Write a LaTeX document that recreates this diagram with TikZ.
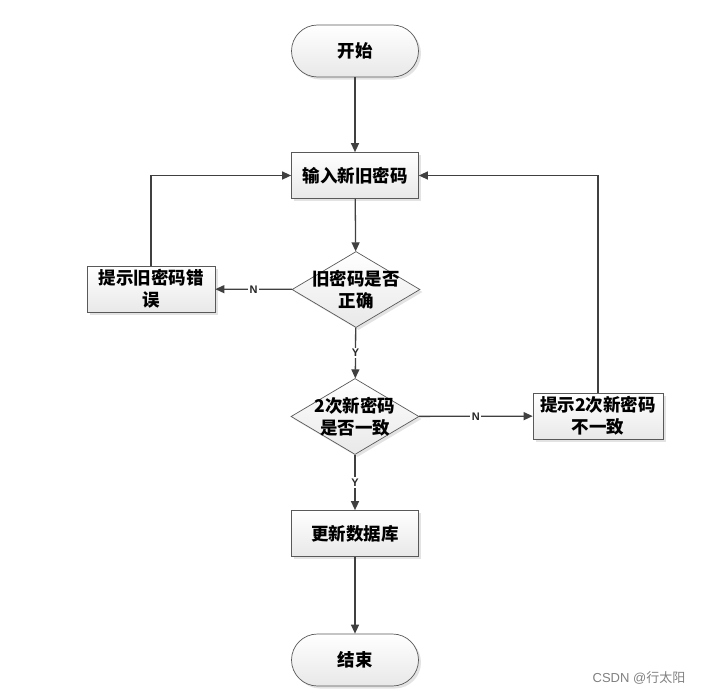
\documentclass[tikz,border=0pt]{standalone}
\usepackage{fontspec}
\setsansfont{Liberation Sans}
\newfontfamily\cjk{Noto Sans CJK SC}
\usetikzlibrary{shapes.geometric,arrows.meta,shadows}
\definecolor{lineC}{HTML}{404040}
\definecolor{edgeC}{HTML}{595959}
\begin{document}
\begin{tikzpicture}[x=1pt,y=-1pt,
  txt/.style={font=\cjk\bfseries\fontsize{17.5}{22}\selectfont, align=center},
  box/.style={txt, draw=edgeC, line width=0.7pt, top color=white, bottom color=black!9,
    minimum width=127pt, minimum height=46pt, inner sep=1pt,
    drop shadow={shadow xshift=2.5pt, shadow yshift=-2.5pt, opacity=0.22}},
  term/.style={box, rounded corners=26pt, minimum height=52pt},
  dec/.style={box, diamond, minimum width=128pt, minimum height=76pt, inner sep=0pt},
  arr/.style={draw=lineC, line width=1.3pt, -{Triangle[length=9pt,width=8pt]}},
  lbl/.style={fill=white, font=\sffamily\bfseries\fontsize{11}{13}\selectfont, inner sep=1.5pt, text=black!85}]
\useasboundingbox (0,0) rectangle (702,696);
\node[term] (start) at (355,51) {开始};
\node[box] (input) at (355,175.5) {输入新旧密码};
\node[dec, label={[txt]center:旧密码是否\\正确}] (d1) at (356,289.5) {};
\node[box, minimum width=128pt] (err1) at (151,289) {提示旧密码错\\误};
\node[dec, label={[txt]center:2次新密码\\是否一致}] (d2) at (355,416.5) {};
\node[box, minimum width=130pt] (err2) at (598,416) {提示2次新密码\\不一致};
\node[box] (upd) at (355,533.5) {更新数据库};
\node[term] (end) at (355,660) {结束};
\node[font=\sffamily\fontsize{13}{15}\selectfont, text=black!50, inner sep=0pt] (wm) at (639,678) {CSDN @{\cjk 行太阳}};
\draw[arr] (start) -- (input);
\draw[arr] (input) -- (d1);
\draw[arr] (d1) -- node[lbl]{N} (err1);
\draw[arr] (d1) -- node[lbl]{Y} (d2);
\draw[arr] (d2) -- node[lbl]{N} (err2);
\draw[arr] (d2) -- node[lbl]{Y} (upd);
\draw[arr] (upd) -- (end);
\draw[arr] (err1.north) |- (input.west);
\draw[arr] (err2.north) |- (input.east);
\end{tikzpicture}
\end{document}
